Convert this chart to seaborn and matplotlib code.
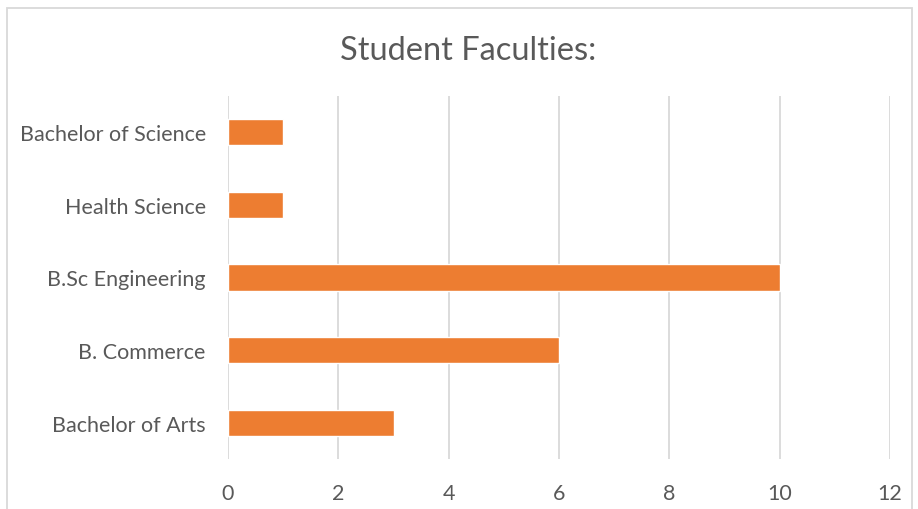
import matplotlib
matplotlib.use("Agg")
import matplotlib.pyplot as plt
import seaborn as sns
import pandas as pd
from matplotlib.patches import Rectangle

categories = ["Bachelor of Science", "Health Science", "B.Sc Engineering", "B. Commerce", "Bachelor of Arts"]
values = [1, 1, 10, 6, 3]
xticks = [0, 2, 4, 6, 8, 10, 12]

df = pd.DataFrame({"faculty": categories, "count": values})

sns.set_theme(style="white")
plt.rcParams['font.family'] = ['Lato', 'DejaVu Sans']

fig = plt.figure(figsize=(9.18, 5.1), dpi=100)
W, H = 918, 510
ax = fig.add_axes([228 / W, 1 - 460 / H, (890 - 228) / W, (460 - 97) / H])

sns.barplot(data=df, x="count", y="faculty", order=categories, color="#ED7D31",
            width=0.36, saturation=1, ax=ax, zorder=3)

ax.set_xlim(0, 12)
ax.set_xticks(xticks)
ax.set_xticklabels([str(t) for t in xticks])
ax.set_xlabel("")
ax.set_ylabel("")
for s in ax.spines.values():
    s.set_visible(False)
ax.grid(axis="x", color="#D9D9D9", linewidth=1.3, zorder=0)
ax.grid(axis="y", visible=False)
ax.tick_params(axis="both", length=0, labelsize=15.5, colors="#595959")
ax.tick_params(axis="x", pad=17)
ax.tick_params(axis="y", pad=16)

fig.text(468 / W, 1 - 51 / H, "Student Faculties:", ha="center", va="center",
         fontsize=23.5, color="#595959")

fig.patches.append(Rectangle((7 / W, -0.05), (912 - 7) / W, 1.05 - 9 / H,
                             transform=fig.transFigure, fill=False,
                             edgecolor="#D9D9D9", linewidth=1.3))

fig.savefig("out.png", dpi=100, facecolor="white")
